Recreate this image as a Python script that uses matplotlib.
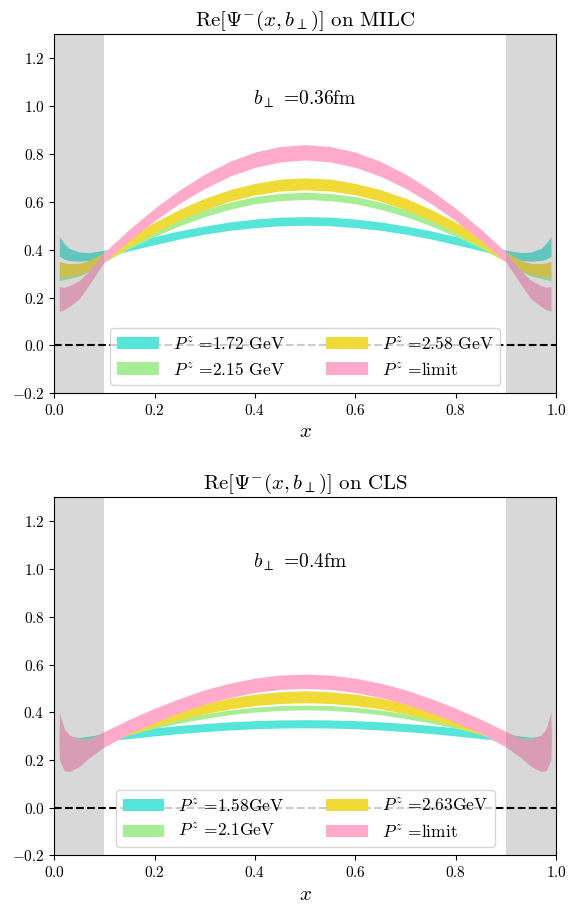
import numpy as np
import matplotlib
matplotlib.use("Agg")
import matplotlib.pyplot as plt

plt.rcParams['font.family'] = 'serif'
plt.rcParams['font.serif'] = ['cmr10']
plt.rcParams['mathtext.fontset'] = 'cm'
plt.rcParams['axes.formatter.use_mathtext'] = True

# sample points in x (symmetric about x = 0.5)
x = [0.01, 0.02, 0.03, 0.05, 0.07, 0.10, 0.15, 0.20, 0.25, 0.30, 0.35, 0.40, 0.45, 0.50,
     0.55, 0.60, 0.65, 0.70, 0.75, 0.80, 0.85, 0.90, 0.93, 0.95, 0.97, 0.98, 0.99]

# --- MILC, b = 0.36 fm: lower / upper edges of each band ---
milc_172_lo = [0.372, 0.360, 0.355, 0.352, 0.355, 0.368, 0.396, 0.421, 0.445, 0.465, 0.481, 0.492, 0.500, 0.502,
               0.500, 0.492, 0.481, 0.465, 0.445, 0.421, 0.396, 0.368, 0.355, 0.352, 0.355, 0.360, 0.372]
milc_172_hi = [0.455, 0.425, 0.405, 0.390, 0.388, 0.398, 0.429, 0.455, 0.479, 0.499, 0.516, 0.528, 0.536, 0.538,
               0.536, 0.528, 0.516, 0.499, 0.479, 0.455, 0.429, 0.398, 0.388, 0.390, 0.405, 0.425, 0.455]
milc_215_lo = [0.270, 0.275, 0.280, 0.290, 0.310, 0.350, 0.405, 0.455, 0.500, 0.538, 0.569, 0.592, 0.605, 0.610,
               0.605, 0.592, 0.569, 0.538, 0.500, 0.455, 0.405, 0.350, 0.310, 0.290, 0.280, 0.275, 0.270]
milc_215_hi = [0.310, 0.305, 0.305, 0.315, 0.335, 0.380, 0.435, 0.485, 0.530, 0.568, 0.599, 0.622, 0.635, 0.640,
               0.635, 0.622, 0.599, 0.568, 0.530, 0.485, 0.435, 0.380, 0.335, 0.315, 0.305, 0.305, 0.310]
milc_258_lo = [0.288, 0.290, 0.292, 0.298, 0.315, 0.350, 0.413, 0.471, 0.523, 0.567, 0.603, 0.629, 0.645, 0.650,
               0.645, 0.629, 0.603, 0.567, 0.523, 0.471, 0.413, 0.350, 0.315, 0.298, 0.292, 0.290, 0.288]
milc_258_hi = [0.351, 0.345, 0.342, 0.343, 0.355, 0.390, 0.455, 0.515, 0.569, 0.615, 0.651, 0.677, 0.695, 0.700,
               0.695, 0.677, 0.651, 0.615, 0.569, 0.515, 0.455, 0.390, 0.355, 0.343, 0.342, 0.345, 0.351]
milc_lim_lo = [0.142, 0.150, 0.163, 0.195, 0.255, 0.350, 0.438, 0.521, 0.594, 0.656, 0.707, 0.744, 0.767, 0.775,
               0.767, 0.744, 0.707, 0.656, 0.594, 0.521, 0.438, 0.350, 0.255, 0.195, 0.163, 0.150, 0.142]
milc_lim_hi = [0.246, 0.243, 0.250, 0.272, 0.312, 0.390, 0.486, 0.573, 0.650, 0.716, 0.769, 0.808, 0.831, 0.839,
               0.831, 0.808, 0.769, 0.716, 0.650, 0.573, 0.486, 0.390, 0.312, 0.272, 0.250, 0.243, 0.246]

# --- CLS, b = 0.4 fm ---
cls_158_lo = [0.250, 0.240, 0.245, 0.260, 0.270, 0.280, 0.290, 0.301, 0.311, 0.319, 0.326, 0.331, 0.334, 0.335,
              0.334, 0.331, 0.326, 0.319, 0.311, 0.301, 0.290, 0.280, 0.270, 0.260, 0.245, 0.240, 0.250]
cls_158_hi = [0.330, 0.310, 0.300, 0.295, 0.300, 0.310, 0.324, 0.335, 0.345, 0.353, 0.360, 0.365, 0.368, 0.369,
              0.368, 0.365, 0.360, 0.353, 0.345, 0.335, 0.324, 0.310, 0.300, 0.295, 0.300, 0.310, 0.330]
cls_210_lo = [0.270, 0.265, 0.265, 0.270, 0.275, 0.280, 0.307, 0.333, 0.355, 0.374, 0.390, 0.401, 0.408, 0.410,
              0.408, 0.401, 0.390, 0.374, 0.355, 0.333, 0.307, 0.280, 0.275, 0.270, 0.265, 0.265, 0.270]
cls_210_hi = [0.340, 0.310, 0.297, 0.291, 0.292, 0.300, 0.327, 0.353, 0.375, 0.394, 0.410, 0.421, 0.428, 0.430,
              0.428, 0.421, 0.410, 0.394, 0.375, 0.353, 0.327, 0.300, 0.292, 0.291, 0.297, 0.310, 0.340]
cls_263_lo = [0.240, 0.230, 0.235, 0.245, 0.255, 0.270, 0.306, 0.340, 0.369, 0.394, 0.414, 0.428, 0.437, 0.440,
              0.437, 0.428, 0.414, 0.394, 0.369, 0.340, 0.306, 0.270, 0.255, 0.245, 0.235, 0.230, 0.240]
cls_263_hi = [0.320, 0.300, 0.290, 0.285, 0.288, 0.300, 0.340, 0.376, 0.409, 0.436, 0.460, 0.476, 0.486, 0.490,
              0.486, 0.476, 0.460, 0.436, 0.409, 0.376, 0.340, 0.300, 0.288, 0.285, 0.290, 0.300, 0.320]
cls_lim_lo = [0.200, 0.155, 0.152, 0.173, 0.210, 0.255, 0.311, 0.357, 0.398, 0.434, 0.462, 0.483, 0.496, 0.500,
              0.496, 0.483, 0.462, 0.434, 0.398, 0.357, 0.311, 0.255, 0.210, 0.173, 0.152, 0.155, 0.200]
cls_lim_hi = [0.400, 0.330, 0.305, 0.285, 0.290, 0.320, 0.371, 0.417, 0.458, 0.494, 0.522, 0.543, 0.556, 0.560,
              0.556, 0.543, 0.522, 0.494, 0.458, 0.417, 0.371, 0.320, 0.290, 0.285, 0.305, 0.330, 0.400]

colors = ['#55E6D9', '#A6EE96', '#F0DA36', '#FFAACB']

panels = [
    dict(title=r'Re$[\Psi^{-}(x,b_\perp)]$ on MILC', btext=r'$b_\perp$ =0.36fm',
         labels=[r'$P^z$ =1.72 GeV', r'$P^z$ =2.15 GeV', r'$P^z$ =2.58 GeV', r'$P^z$ =limit'],
         bands=[(milc_172_lo, milc_172_hi), (milc_215_lo, milc_215_hi),
                (milc_258_lo, milc_258_hi), (milc_lim_lo, milc_lim_hi)]),
    dict(title=r'Re$[\Psi^{-}(x,b_\perp)]$ on CLS', btext=r'$b_\perp$ =0.4fm',
         labels=[r'$P^z$ =1.58GeV', r'$P^z$ =2.1GeV', r'$P^z$ =2.63GeV', r'$P^z$ =limit'],
         bands=[(cls_158_lo, cls_158_hi), (cls_210_lo, cls_210_hi),
                (cls_263_lo, cls_263_hi), (cls_lim_lo, cls_lim_hi)]),
]

fig = plt.figure(figsize=(5.76, 9.07), dpi=100)
rects = [[0.0943, 0.5664, 0.871, 0.3958], [0.0943, 0.0568, 0.871, 0.3947]]

for rect, p in zip(rects, panels):
    ax = fig.add_axes(rect)
    for (lo, hi), c, lab in zip(p['bands'], colors, p['labels']):
        ax.fill_between(x, lo, hi, color=c, lw=0, label=lab)
    # excluded end-point regions
    ax.axvspan(0.0, 0.1, color='grey', alpha=0.3, lw=0)
    ax.axvspan(0.9, 1.0, color='grey', alpha=0.3, lw=0)
    ax.axhline(0.0, color='k', ls='--', lw=1.5)
    ax.set_xlim(0, 1)
    ax.set_ylim(-0.2, 1.3)
    ax.set_xticks([0.0, 0.2, 0.4, 0.6, 0.8, 1.0])
    ax.set_yticks([-0.2, 0.0, 0.2, 0.4, 0.6, 0.8, 1.0, 1.2])
    ax.tick_params(labelsize=11)
    ax.set_xlabel(r'$x$', fontsize=15)
    ax.set_title(p['title'], fontsize=15)
    ax.text(0.396, 1.03, p['btext'], fontsize=14, ha='left', va='center')
    ax.legend(loc='lower center', ncol=2, fontsize=12.5, handlelength=2.4,
              columnspacing=2.4)

fig.savefig('out.png', dpi=100)
